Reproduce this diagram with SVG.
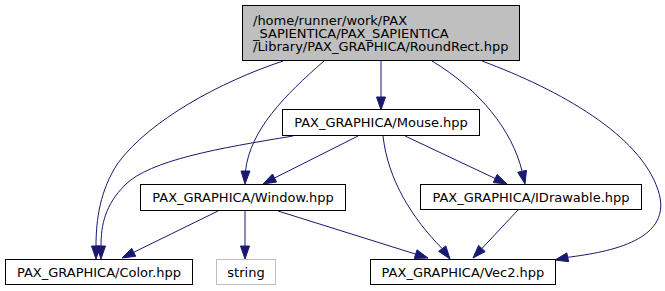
<svg xmlns="http://www.w3.org/2000/svg" width="665" height="291" viewBox="0 0 665 291">
  <style>
    .node rect { fill: #ffffff; stroke: #000000; stroke-width: 1; }
    #root rect { fill: #bfbfbf; }
    #n_string rect { stroke: #bfbfbf; }
    text { font-family: "DejaVu Sans", "Liberation Sans", sans-serif; font-size: 13px; fill: #000000; }
    .c { text-anchor: middle; }
    .edges path { fill: none; stroke: #191970; stroke-width: 1; }
    .edges polygon { fill: #191970; stroke: #191970; stroke-width: 1; }
  </style>
  <rect width="665" height="291" fill="#ffffff"/>

  <g class="edges">
    <!-- RoundRect -> Mouse -->
    <path d="M381,61 L381,97"/>
    <polygon points="381,110 376.5,97 385.5,97"/>
    <!-- RoundRect -> Color -->
    <path d="M283,61 C220,82 150,120 118,163 C100,190 96,220 96,246"/>
    <polygon points="96,259 91.5,246 100.5,246"/>
    <!-- RoundRect -> Window -->
    <path d="M324,61 C285,95 250,130 245.5,171"/>
    <polygon points="245,184 241,171 250,171"/>
    <!-- RoundRect -> IDrawable -->
    <path d="M432,61 C480,90 512,130 522.1,171.3"/>
    <polygon points="525,184 517.7,172.3 526.5,170.3"/>
    <!-- RoundRect -> Vec2 -->
    <path d="M482,61 C560,90 640,135 658,190 C675,240 610,252 567.7,257.3"/>
    <polygon points="555,260 566.8,252.9 568.7,261.7"/>
    <!-- Mouse -> Color -->
    <path d="M293,136 C220,148 150,160 125,185 C105,205 101,225 101,246"/>
    <polygon points="101,259 96.5,246 105.5,246"/>
    <!-- Mouse -> Window -->
    <path d="M358,136 L274.5,178"/>
    <polygon points="263,184 272.5,174 276.6,182"/>
    <!-- Mouse -> Vec2 -->
    <path d="M383,136 C388,180 412,218 442.2,248.6"/>
    <polygon points="450,259 438.6,251.3 445.8,245.9"/>
    <!-- Mouse -> IDrawable -->
    <path d="M405,136 L495.2,178.5"/>
    <polygon points="507,184 493.3,182.6 497.1,174.4"/>
    <!-- Window -> Color -->
    <path d="M218,211 L133.7,252.3"/>
    <polygon points="122,258 131.7,248.3 135.7,256.3"/>
    <!-- Window -> string -->
    <path d="M245,211 L245,246"/>
    <polygon points="245,259 240.5,246 249.5,246"/>
    <!-- Window -> Vec2 -->
    <path d="M278,211 L415.6,254.1"/>
    <polygon points="428,258 414.3,258.4 417,249.8"/>
    <!-- IDrawable -> Vec2 -->
    <path d="M518,210 L481.9,248.5"/>
    <polygon points="473,258 478.6,245.4 485.2,251.6"/>
  </g>

  <g id="root" class="node">
    <rect x="242.5" y="5.5" width="277" height="55"/>
    <text x="253" y="25">/home/runner/work/PAX<tspan x="253" dy="13">_SAPIENTICA/PAX_SAPIENTICA</tspan><tspan x="253" dy="13">/Library/PAX_GRAPHICA/RoundRect.hpp</tspan></text>
  </g>
  <g id="n_mouse" class="node">
    <rect x="282.5" y="109.5" width="197" height="26"/>
    <text class="c" x="381" y="127">PAX_GRAPHICA/Mouse.hpp</text>
  </g>
  <g id="n_window" class="node">
    <rect x="140.5" y="184.5" width="205" height="26"/>
    <text class="c" x="243" y="202">PAX_GRAPHICA/Window.hpp</text>
  </g>
  <g id="n_idrawable" class="node">
    <rect x="420.5" y="184.5" width="221" height="25"/>
    <text class="c" x="531" y="202">PAX_GRAPHICA/IDrawable.hpp</text>
  </g>
  <g id="n_color" class="node">
    <rect x="5.5" y="259.5" width="187" height="25"/>
    <text class="c" x="99" y="277">PAX_GRAPHICA/Color.hpp</text>
  </g>
  <g id="n_string" class="node">
    <rect x="216.5" y="259.5" width="59" height="25"/>
    <text class="c" x="246" y="277">string</text>
  </g>
  <g id="n_vec2" class="node">
    <rect x="370.5" y="259.5" width="185" height="25"/>
    <text class="c" x="463" y="277">PAX_GRAPHICA/Vec2.hpp</text>
  </g>
</svg>
